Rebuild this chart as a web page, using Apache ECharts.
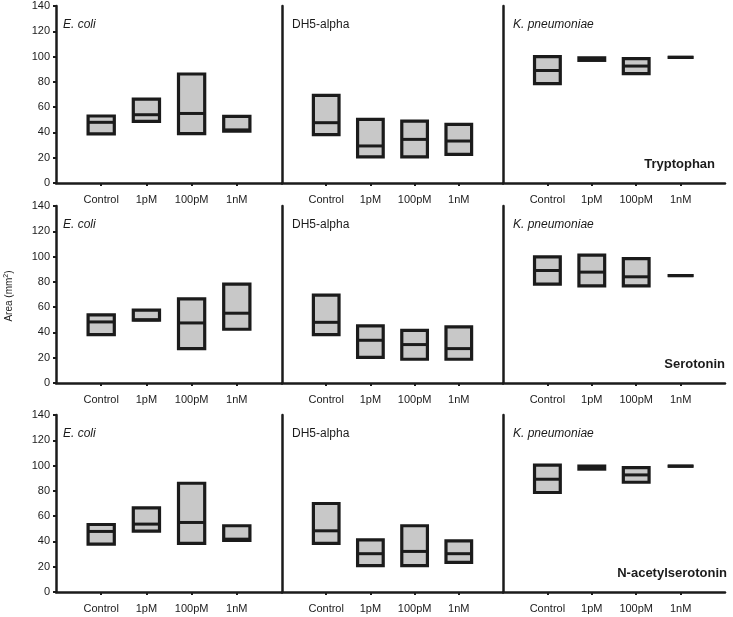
<!DOCTYPE html>
<html>
<head>
<meta charset="utf-8">
<script src="https://cdn.jsdelivr.net/npm/echarts@6/dist/echarts.min.js"></script>
<style>html,body{margin:0;padding:0;background:#fff}#c{width:733px;height:617px}</style>
</head>
<body>
<div id="c"></div>
<script>
// ---- data ----
const categories = ['Control', '1pM', '100pM', '1nM'];
const yTicks = [0, 20, 40, 60, 80, 100, 120, 140];
const compounds = ['Tryptophan', 'Serotonin', 'N-acetylserotonin'];
const strains = ['E. coli', 'DH5-alpha', 'K. pneumoniae'];
// each entry: [min, median, max] for Control, 1pM, 100pM, 1nM
const trpEcoli  = [[38.8, 48, 53], [48.8, 54, 66.4], [39, 55, 86.2], [41, 42, 52.7]];
const trpDH5    = [[38.2, 47.7, 69.3], [20.6, 29.3, 50.4], [20.6, 34.5, 49], [22.7, 33.2, 46.4]];
const trpKpn    = [[78.6, 89, 100], [97, 98, 99], [86.5, 92.5, 98.3], [99.4, 99.4, 99.4]];
const serEcoli  = [[38.3, 48.3, 53.9], [49.7, 50, 57.6], [27.2, 47.5, 66.6], [42.5, 55.2, 78.2]];
const serDH5    = [[38.3, 48, 69.5], [20.3, 33.8, 45.2], [18.8, 30.4, 41.7], [18.8, 27.2, 44.4]];
const serKpn    = [[78.2, 89, 99.8], [76.9, 87.7, 101.2], [76.9, 84, 98.3], [85, 85, 85]];
const nasEcoli  = [[37.9, 47.9, 53.4], [48.2, 53.7, 66.6], [38.4, 55, 86], [40.8, 41.8, 52.4]];
const nasDH5    = [[38.4, 48.4, 70], [20.8, 30.3, 41.3], [20.8, 32.1, 52.4], [23.4, 30.3, 40.5]];
const nasKpn    = [[78.7, 89.2, 100.3], [97.2, 98.4, 99.6], [86.8, 92.6, 98.4], [99.5, 99.5, 99.5]];
const panelData = [
  [trpEcoli, trpDH5, trpKpn],
  [serEcoli, serDH5, serKpn],
  [nasEcoli, nasDH5, nasKpn]
];

// ---- layout ----
const colLeft = [56, 282, 503];
const colWidth = [226, 221, 222];
const rowTop = [6, 206, 415];
const rowHeight = 177;
const compoundRight = [715, 725, 727];

const axisCats = [''].concat(categories, ['']);
const FONT = '"Liberation Sans", Arial, sans-serif';
const INK = '#1b1b1b';

const grids = [], xAxes = [], yAxes = [], series = [], graphics = [];
let gi = 0;
for (let r = 0; r < 3; r++) {
  for (let c = 0; c < 3; c++) {
    grids.push({left: colLeft[c], top: rowTop[r], width: colWidth[c], height: rowHeight, containLabel: false});
    xAxes.push({
      type: 'category', gridIndex: gi, data: axisCats, boundaryGap: false,
      axisLine: {lineStyle: {color: INK, width: 2.5}},
      axisTick: {length: 3, interval: (i) => i > 0 && i < axisCats.length - 1, lineStyle: {color: INK, width: 2}},
      axisLabel: {interval: (i) => i > 0 && i < axisCats.length - 1, margin: 11, color: INK, fontSize: 11, fontFamily: FONT},
      splitLine: {show: false}
    });
    yAxes.push({
      type: 'value', gridIndex: gi, min: 0, max: 140, interval: 20,
      axisLine: {show: true, lineStyle: {color: INK, width: 2.5}},
      axisTick: {show: c === 0, length: 3, lineStyle: {color: INK, width: 2}},
      axisLabel: {show: c === 0, margin: 6, color: INK, fontSize: 11, fontFamily: FONT,
        customValues: yTicks},
      splitLine: {show: false}
    });
    const d = panelData[r][c].map((v, i) => [i + 1, v[0], v[1], v[2]]);
    series.push({
      type: 'custom', xAxisIndex: gi, yAxisIndex: gi, data: d,
      renderItem: function (params, api) {
        const x = api.value(0);
        const lo = api.coord([x, api.value(1)]);
        const med = api.coord([x, api.value(2)]);
        const hi = api.coord([x, api.value(3)]);
        const w = api.size([1, 0])[0] * 0.58;
        return {
          type: 'group',
          children: [
            {type: 'rect', shape: {x: lo[0] - w / 2, y: hi[1], width: w, height: lo[1] - hi[1]},
              style: {fill: '#c8c8c8', stroke: INK, lineWidth: 3.2}},
            {type: 'line', shape: {x1: lo[0] - w / 2, y1: med[1], x2: lo[0] + w / 2, y2: med[1]},
              style: {stroke: INK, lineWidth: 3}}
          ]
        };
      }
    });
    // strain label
    graphics.push({
      type: 'text', left: colLeft[c] + (c === 0 ? 7 : 10), top: rowTop[r] + 13,
      style: {text: strains[c], fill: INK, font: (c === 1 ? '' : 'italic ') + '12px ' + FONT}
    });
    gi++;
  }
  graphics.push({
    type: 'text', right: 733 - compoundRight[r], top: rowTop[r] + rowHeight - 25,
    style: {text: compounds[r], fill: INK, font: 'bold 13px ' + FONT, textAlign: 'right'}
  });
}
graphics.push({
  type: 'text', x: 3, y: 296, rotation: Math.PI / 2,
  style: {
    text: 'Area (mm{s|2})', fill: INK, font: '10px ' + FONT, textAlign: 'center', textVerticalAlign: 'top',
    rich: {s: {fontSize: 7, verticalAlign: 'top', padding: [0, 0, 5, 0], fontFamily: FONT, fill: INK}}
  }
});

const chart = echarts.init(document.getElementById('c'), null, {renderer: 'canvas'});
chart.setOption({
  animation: false,
  grid: grids, xAxis: xAxes, yAxis: yAxes, series: series, graphic: graphics
});
</script>
</body>
</html>
